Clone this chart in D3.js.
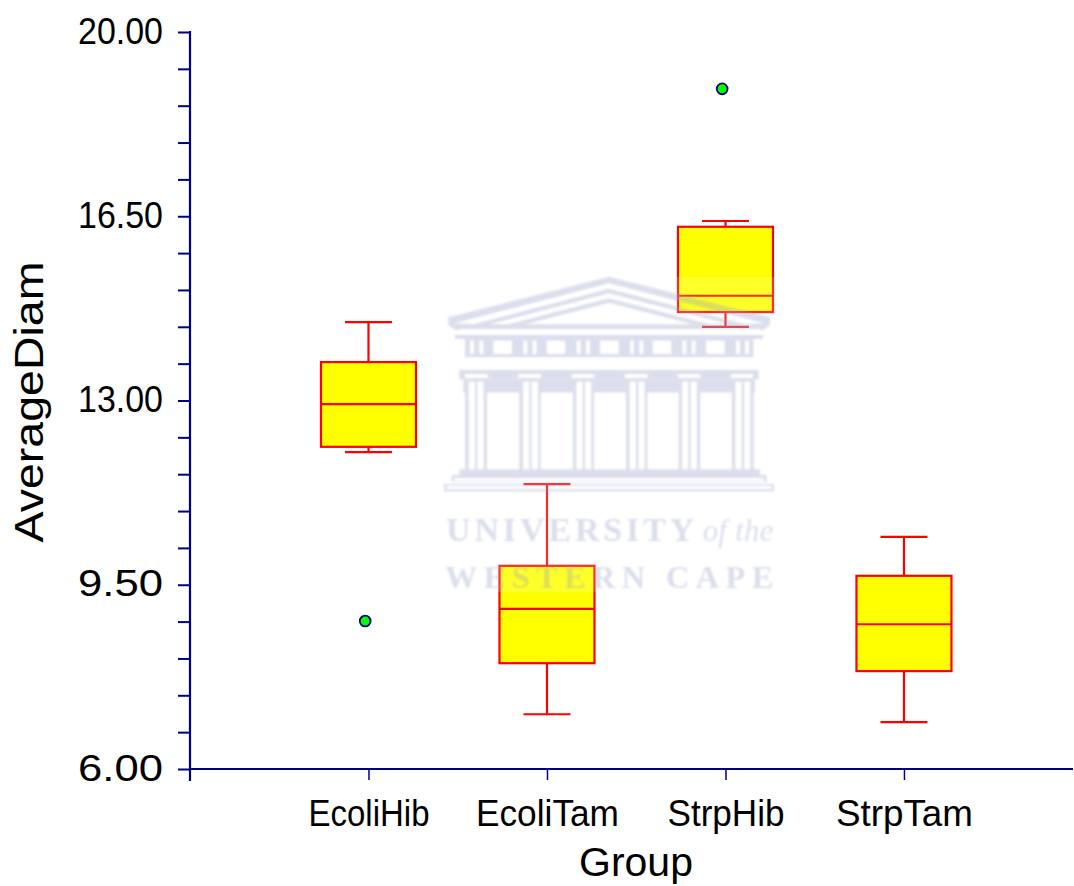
<!DOCTYPE html>
<html><head><meta charset="utf-8">
<script src="https://cdnjs.cloudflare.com/ajax/libs/d3/7.8.5/d3.min.js"></script>
<style>html,body{margin:0;padding:0;background:#fff}svg{display:block}text{font-family:"Liberation Sans",Arial,sans-serif;fill:#000}</style>
</head><body><svg id="c" width="1074" height="886"></svg>
<script>
const categories=["EcoliHib","EcoliTam","StrpHib","StrpTam"];
const whiskerHigh=[14.49,11.41,16.41,10.41];
const q3=[13.73,9.86,16.30,9.67];
const medians=[12.93,9.04,14.99,8.75];
const q1=[12.12,8.01,14.68,7.86];
const whiskerLow=[12.02,7.04,14.40,6.89];
const outliers=[{g:0,v:8.81},{g:2,v:18.92}];
const majorTicks=[6,9.5,13,16.5,20];
const allTicks=d3.range(0,21).map(i=>6+i*0.7);

const svg=d3.select("#c");
const x=d3.scaleLinear().domain([0,4.947]).range([190,1073]);
const y=d3.scaleLinear().domain([6,20]).range([769,32]);
const navy="#000080",red="#ff0000";
const boxW=47.5,capW=23.5;

const gm=svg.append("g").attr("class","boxes");
categories.forEach((c,i)=>{
  const cx=x(i+1);
  const g=gm.append("g").attr("stroke",red).attr("stroke-width",2.2);
  g.append("line").attr("x1",cx).attr("x2",cx).attr("y1",y(whiskerHigh[i])).attr("y2",y(q3[i]));
  g.append("line").attr("x1",cx).attr("x2",cx).attr("y1",y(q1[i])).attr("y2",y(whiskerLow[i]));
  g.append("line").attr("x1",cx-capW).attr("x2",cx+capW).attr("y1",y(whiskerHigh[i])).attr("y2",y(whiskerHigh[i]));
  g.append("line").attr("x1",cx-capW).attr("x2",cx+capW).attr("y1",y(whiskerLow[i])).attr("y2",y(whiskerLow[i]));
  g.append("rect").attr("x",cx-boxW).attr("width",boxW*2).attr("y",y(q3[i])).attr("height",y(q1[i])-y(q3[i])).attr("fill","#ffff00");
  g.append("line").attr("x1",cx-boxW).attr("x2",cx+boxW).attr("y1",y(medians[i])).attr("y2",y(medians[i]));
});
svg.append("g").selectAll("circle").data(outliers).join("circle")
  .attr("cx",d=>x(d.g+1)-3.3).attr("cy",d=>y(d.v)).attr("r",5.4)
  .attr("fill","#00ff00").attr("stroke",navy).attr("stroke-width",1.8);

// watermark, semi-transparent over the marks
const defs=svg.append("defs");
defs.append("filter").attr("id","soft").append("feGaussianBlur").attr("stdDeviation",2.6);
svg.append("rect").attr("x",444).attr("y",277).attr("width",330).attr("height",315).attr("fill","#fff").attr("opacity",0.16);
const wm=svg.append("g").attr("transform","translate(430,260) scale(0.3333)");
const art=wm.append("g").attr("filter","url(#soft)");
const ink="#8f99c4",inkOp=0.32;
const mask=defs.append("mask").attr("id","bld").attr("maskUnits","userSpaceOnUse").attr("x",0).attr("y",0).attr("width",1080).attr("height",720);
const poly=(p,f)=>mask.append("polygon").attr("points",p).attr("fill",f);
const rct=(a,b,w,h,f)=>mask.append("rect").attr("x",a).attr("y",b).attr("width",w).attr("height",h).attr("fill",f);
const on="#fff",off="#000";
poly("55,172 537,50 1020,172 1020,195 1000,210 75,210 55,195",on);
poly("72,190 537,70 1003,190 945,193 537,86 130,193",off);
poly("177,193 537,100 897,193 839,193 537,115 235,193",off);
poly("286,193 537,128 788,193",off);
rct(90,207,900,18,off);
rct(75,225,925,12,on);
rct(105,237,865,55,on);
rct(115,292,845,38,off);
[120,148,280,308,440,468,600,628,757,785,918,945].forEach(a=>rct(a,242,12,40,off));
[190,350,510,668,828].forEach(a=>rct(a,242,56,40,off));
rct(88,330,898,28,on);
rct(100,358,875,40,on);
[105,265,425,585,743,902].forEach(a=>rct(a,342,68,12,off));
[105,268,428,588,745,905].forEach(a=>{
  rct(a,365,66,265,on);
  rct(a+11,365,19,265,off);
  rct(a+37,365,19,265,off);
});
[172,332,492,652,812].forEach((a,i)=>rct(a,398,[95,96,96,94,93][i],232,off));
rct(88,628,902,18,on);
rct(65,645,945,20,on); rct(72,654,930,9,off);
rct(42,672,990,22,on); rct(50,677,975,10,off);
art.append("rect").attr("width",1080).attr("height",720).attr("fill",ink).attr("opacity",inkOp).attr("mask","url(#bld)");
const wt=wm.append("g").attr("opacity",inkOp).attr("filter","url(#soft)");
const serif=(tx,ty,size,len,style,weight,s)=>wt.append("text").attr("x",tx).attr("y",ty).attr("textLength",len).attr("lengthAdjust","spacing")
  .style("font-family","'Liberation Serif',serif").style("font-style",style).style("font-weight",weight).style("font-size",size+"px").style("fill",ink).text(s);
serif(48,842,102,745,"normal","bold","UNIVERSITY");
serif(818,842,92,212,"italic","normal","of the");
serif(45,985,97,985,"normal","bold","WESTERN CAPE");

// axes
const yAxis=d3.axisLeft(y).tickValues(allTicks).tickSize(12).tickPadding(15).tickFormat(d=>majorTicks.some(m=>Math.abs(m-d)<1e-6)?d.toFixed(2):"");
const gy=svg.append("g").attr("transform","translate(190,0)").call(yAxis);
gy.select(".domain").attr("stroke",navy).attr("stroke-width",2.2).attr("d","M0,31V781");
gy.selectAll(".tick line").attr("stroke",navy).attr("stroke-width",2);
gy.selectAll(".tick text").style("font-size","36px").style("font-family","'Liberation Sans',Arial,sans-serif").attr("fill","#000").attr("dy","0.31em")
  .attr("textLength",85).attr("lengthAdjust","spacingAndGlyphs").filter(d=>!majorTicks.some(m=>Math.abs(m-d)<1e-6)).remove();
const labelWidths=[121,143,117,137];
const xAxis=d3.axisBottom(x).tickValues([1,2,3,4]).tickSize(11).tickPadding(14).tickFormat(d=>categories[d-1]);
const gx=svg.append("g").attr("transform","translate(0,769)").call(xAxis);
gx.select(".domain").attr("stroke",navy).attr("stroke-width",2.2).attr("d","M190,0H1073");
gx.selectAll(".tick line").attr("stroke",navy).attr("stroke-width",1.5);
gx.selectAll(".tick text").style("font-size","36px").style("font-family","'Liberation Sans',Arial,sans-serif").attr("fill","#000")
  .attr("y",null).attr("dy",null).attr("y",57).attr("textLength",d=>labelWidths[d-1]).attr("lengthAdjust","spacingAndGlyphs");
svg.append("text").attr("x",636).attr("y",876).attr("text-anchor","middle").style("font-size","41px").text("Group");
svg.append("text").attr("transform","translate(43,402) rotate(-90)").attr("text-anchor","middle").attr("textLength",281).attr("lengthAdjust","spacingAndGlyphs").style("font-size","41px").text("AverageDiam");
</script></body></html>
